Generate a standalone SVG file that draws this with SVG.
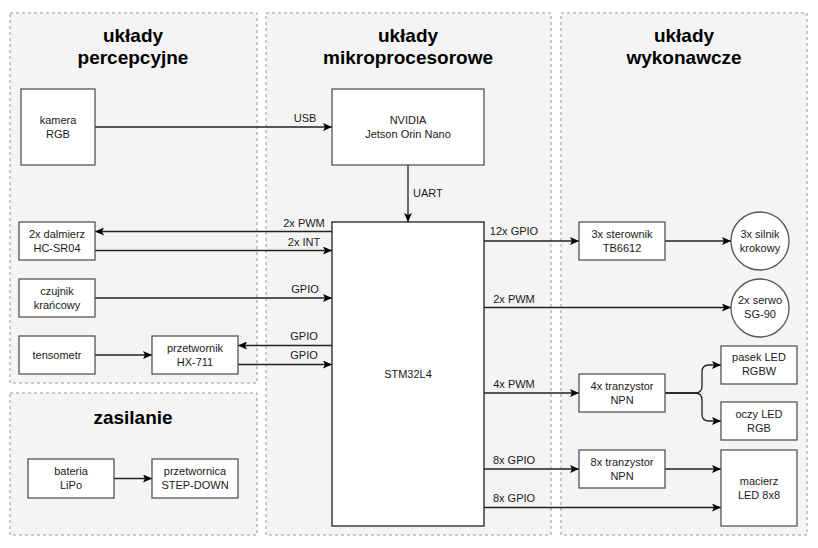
<svg xmlns="http://www.w3.org/2000/svg" width="818" height="548" viewBox="0 0 818 548">
<defs>
<marker id="arr" markerWidth="10" markerHeight="8" refX="9" refY="4" orient="auto" markerUnits="userSpaceOnUse">
<path d="M0,0 L9,4 L0,8 L2,4 Z" fill="#000"/>
</marker>
<style>
.grp{fill:#f4f4f4;stroke:#999;stroke-width:1;stroke-dasharray:3,3}
.box{fill:#fff;stroke:#555;stroke-width:1.3}
.t{font-family:"Liberation Sans",Arial,sans-serif;font-size:11px;fill:#1a1a1a;text-anchor:middle}
.h{font-family:"Liberation Sans",Arial,sans-serif;font-size:19px;font-weight:bold;fill:#000;text-anchor:middle}
.e{fill:none;stroke:#222;stroke-width:1.3;marker-end:url(#arr)}
</style>
</defs>
<rect width="818" height="548" fill="#fff"/>
<g id="groups">
<rect class="grp" x="10" y="13" width="247" height="370"/>
<rect class="grp" x="10" y="393" width="247" height="142"/>
<rect class="grp" x="266" y="13" width="285" height="522"/>
<rect class="grp" x="561" y="13" width="246" height="522"/>
<text class="h" x="133" y="42">układy</text>
<text class="h" x="133" y="64">percepcyjne</text>
<text class="h" x="408" y="42">układy</text>
<text class="h" x="408" y="64">mikroprocesorowe</text>
<text class="h" x="684" y="42">układy</text>
<text class="h" x="684" y="64">wykonawcze</text>
<text class="h" x="133" y="424">zasilanie</text>
</g>
<g id="connectors">
<path class="e" d="M95,127 H332"/>
<path class="e" d="M408,165 V222"/>
<path class="e" d="M332,231.5 H95"/>
<path class="e" d="M95,250.5 H332"/>
<path class="e" d="M95,298 H332"/>
<path class="e" d="M332,345.5 H238"/>
<path class="e" d="M238,364.5 H332"/>
<path class="e" d="M95,355 H152"/>
<path class="e" d="M484,241 H579"/>
<path class="e" d="M665,241 H731"/>
<path class="e" d="M484,307.5 H731"/>
<path class="e" d="M484,393 H579"/>
<path class="e" d="M665,393 H695 Q702,393 702,386 V372 Q702,365 709,365 H721"/>
<path class="e" d="M665,393 H695 Q702,393 702,400 V414 Q702,421 709,421 H721"/>
<path class="e" d="M484,469 H579"/>
<path class="e" d="M665,469 H721"/>
<path class="e" d="M484,507.5 H721"/>
<path class="e" d="M114,478.5 H152"/>
<text class="t" x="305" y="122">USB</text>
<text class="t" x="413" y="197" style="text-anchor:start">UART</text>
<text class="t" x="304" y="227">2x PWM</text>
<text class="t" x="304" y="246">2x INT</text>
<text class="t" x="305" y="293">GPIO</text>
<text class="t" x="304" y="340">GPIO</text>
<text class="t" x="304" y="359">GPIO</text>
<text class="t" x="514" y="235">12x GPIO</text>
<text class="t" x="514" y="303">2x PWM</text>
<text class="t" x="514" y="388">4x PWM</text>
<text class="t" x="514" y="464">8x GPIO</text>
<text class="t" x="514" y="502">8x GPIO</text>
</g>
<g id="kamera"><rect class="box" x="21" y="89" width="74" height="76"/><text class="t" x="58" y="124">kamera</text><text class="t" x="58" y="138">RGB</text></g>
<g id="dalmierz"><rect class="box" x="19" y="222" width="76" height="38"/><text class="t" x="57" y="238">2x dalmierz</text><text class="t" x="57" y="252">HC-SR04</text></g>
<g id="czujnik"><rect class="box" x="19" y="279" width="76" height="38"/><text class="t" x="57" y="295">czujnik</text><text class="t" x="57" y="309">krańcowy</text></g>
<g id="tensometr"><rect class="box" x="19" y="336" width="76" height="38"/><text class="t" x="57" y="359">tensometr</text></g>
<g id="hx711"><rect class="box" x="152" y="336" width="86" height="38"/><text class="t" x="195" y="352">przetwornik</text><text class="t" x="195" y="366">HX-711</text></g>
<g id="bateria"><rect class="box" x="28" y="459" width="86" height="39"/><text class="t" x="71" y="475">bateria</text><text class="t" x="71" y="489">LiPo</text></g>
<g id="przetwornica"><rect class="box" x="152" y="459" width="86" height="39"/><text class="t" x="195" y="475">przetwornica</text><text class="t" x="195" y="489">STEP-DOWN</text></g>
<g id="nvidia"><rect class="box" x="332" y="89" width="152" height="76"/><text class="t" x="408" y="124">NVIDIA</text><text class="t" x="408" y="138">Jetson Orin Nano</text></g>
<g id="stm32"><rect class="box" x="332" y="222" width="152" height="304" style="stroke:#222"/><text class="t" x="408" y="378">STM32L4</text></g>
<g id="sterownik"><rect class="box" x="579" y="222" width="86" height="38"/><text class="t" x="622" y="238">3x sterownik</text><text class="t" x="622" y="252">TB6612</text></g>
<g id="silnik"><circle class="box" cx="760" cy="241" r="29"/><text class="t" x="760" y="238">3x silnik</text><text class="t" x="760" y="252">krokowy</text></g>
<g id="serwo"><circle class="box" cx="760" cy="308" r="29"/><text class="t" x="760" y="304">2x serwo</text><text class="t" x="760" y="318">SG-90</text></g>
<g id="tranz4"><rect class="box" x="579" y="374" width="86" height="38"/><text class="t" x="622" y="390">4x tranzystor</text><text class="t" x="622" y="404">NPN</text></g>
<g id="pasek"><rect class="box" x="721" y="346" width="76" height="38"/><text class="t" x="759" y="361">pasek LED</text><text class="t" x="759" y="375">RGBW</text></g>
<g id="oczy"><rect class="box" x="721" y="402" width="76" height="38"/><text class="t" x="759" y="418">oczy LED</text><text class="t" x="759" y="432">RGB</text></g>
<g id="tranz8"><rect class="box" x="579" y="450" width="86" height="38"/><text class="t" x="622" y="466">8x tranzystor</text><text class="t" x="622" y="480">NPN</text></g>
<g id="macierz"><rect class="box" x="721" y="450" width="76" height="76"/><text class="t" x="759" y="485">macierz</text><text class="t" x="759" y="499">LED 8x8</text></g>
</svg>
